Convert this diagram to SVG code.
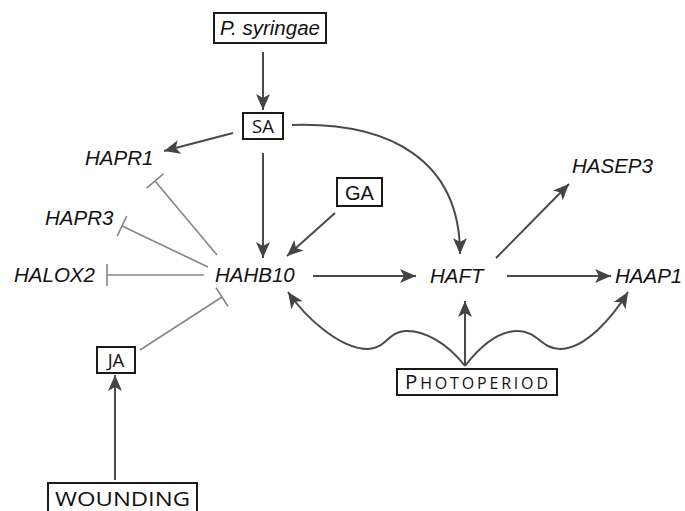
<svg xmlns="http://www.w3.org/2000/svg" width="685" height="511" viewBox="0 0 685 511">
<style>
.box{fill:#fff;stroke:#1a1a1a;stroke-width:2}
.gene{font-family:"Liberation Sans",Arial,sans-serif;font-style:italic;font-size:20.5px;fill:#111}
.hum{font-family:"Open Sans","DejaVu Sans",sans-serif;fill:#111}
.act{fill:none;stroke:#4a4a4a;stroke-width:2;marker-end:url(#arr)}
.inh{fill:none;stroke:#858585;stroke-width:1.6;marker-end:url(#bar)}
</style>
<defs>
<marker id="arr" markerUnits="userSpaceOnUse" markerWidth="18" markerHeight="14" refX="16" refY="7" orient="auto">
<path d="M0,0 L16,7 L0,14 L4,7 Z" fill="#444"/>
</marker>
<marker id="bar" markerUnits="userSpaceOnUse" markerWidth="4" markerHeight="24" refX="2" refY="12" orient="auto">
<path d="M2,1 L2,23" stroke="#858585" stroke-width="1.6"/>
</marker>
</defs>
<g id="connectors">
<path class="act" d="M263,52 L263,110"/>
<path class="act" d="M233,133 L164,151"/>
<path class="act" d="M263,153 L263,258"/>
<path class="act" d="M292,125 C390,122 460,160 460,254"/>
<path class="act" d="M335,213 L287,256"/>
<path class="act" d="M313,276 L416,276"/>
<path class="act" d="M496,258 L569,184"/>
<path class="act" d="M507,276 L611,276"/>
<path class="act" d="M115,480 L115,375"/>
<path class="act" d="M465,366 L465,301"/>
<path class="act" d="M465,366 C448,344 425,330 405,331 C388,332 385,349 368,349 C340,349 306,318 288,292"/>
<path class="act" d="M465,366 C482,344 500,331 518,331 C537,331 542,349 560,349 C585,349 612,318 628,292"/>
<path class="inh" d="M217,255 L155,181"/>
<path class="inh" d="M208,267 L122,226"/>
<path class="inh" d="M204,275 L107,275"/>
<path class="inh" d="M140,350 L222,297"/>
</g>
<g id="psyringae"><rect class="box" x="214" y="13" width="112" height="30"/><text class="gene" x="270" y="35" text-anchor="middle" font-size="20">P. syringae</text></g>
<g id="SA"><rect class="box" x="243" y="113" width="40" height="26"/><text class="hum" x="263" y="133" text-anchor="middle" font-size="18.5">SA</text></g>
<g id="GA"><rect class="box" x="337" y="178" width="45" height="28"/><text x="359.5" y="200" text-anchor="middle" font-family="Liberation Sans,Arial,sans-serif" font-size="20" fill="#111">GA</text></g>
<g id="JA"><rect class="box" x="97" y="347" width="38" height="26"/><text class="hum" x="116" y="367" text-anchor="middle" font-size="18.5">JA</text></g>
<g id="wounding"><rect class="box" x="48" y="483" width="149" height="40"/><text class="hum" x="55" y="506" font-size="20.5" textLength="135" lengthAdjust="spacingAndGlyphs">WOUNDING</text></g>
<g id="photoperiod"><rect class="box" x="397" y="369" width="160" height="26"/><text class="hum" x="405" y="389" font-size="16" textLength="143" lengthAdjust="spacing"><tspan font-size="20.5">P</tspan>HOTOPERIOD</text></g>
<g id="HAPR1"><text class="gene" x="85" y="165">HAPR1</text></g>
<g id="HAPR3"><text class="gene" x="45" y="225">HAPR3</text></g>
<g id="HALOX2"><text class="gene" x="14" y="282">HALOX2</text></g>
<g id="HAHB10"><text class="gene" x="215" y="282">HAHB10</text></g>
<g id="HAFT"><text class="gene" x="430" y="283">HAFT</text></g>
<g id="HASEP3"><text class="gene" x="572" y="173">HASEP3</text></g>
<g id="HAAP1"><text class="gene" x="615" y="283">HAAP1</text></g>
</svg>
